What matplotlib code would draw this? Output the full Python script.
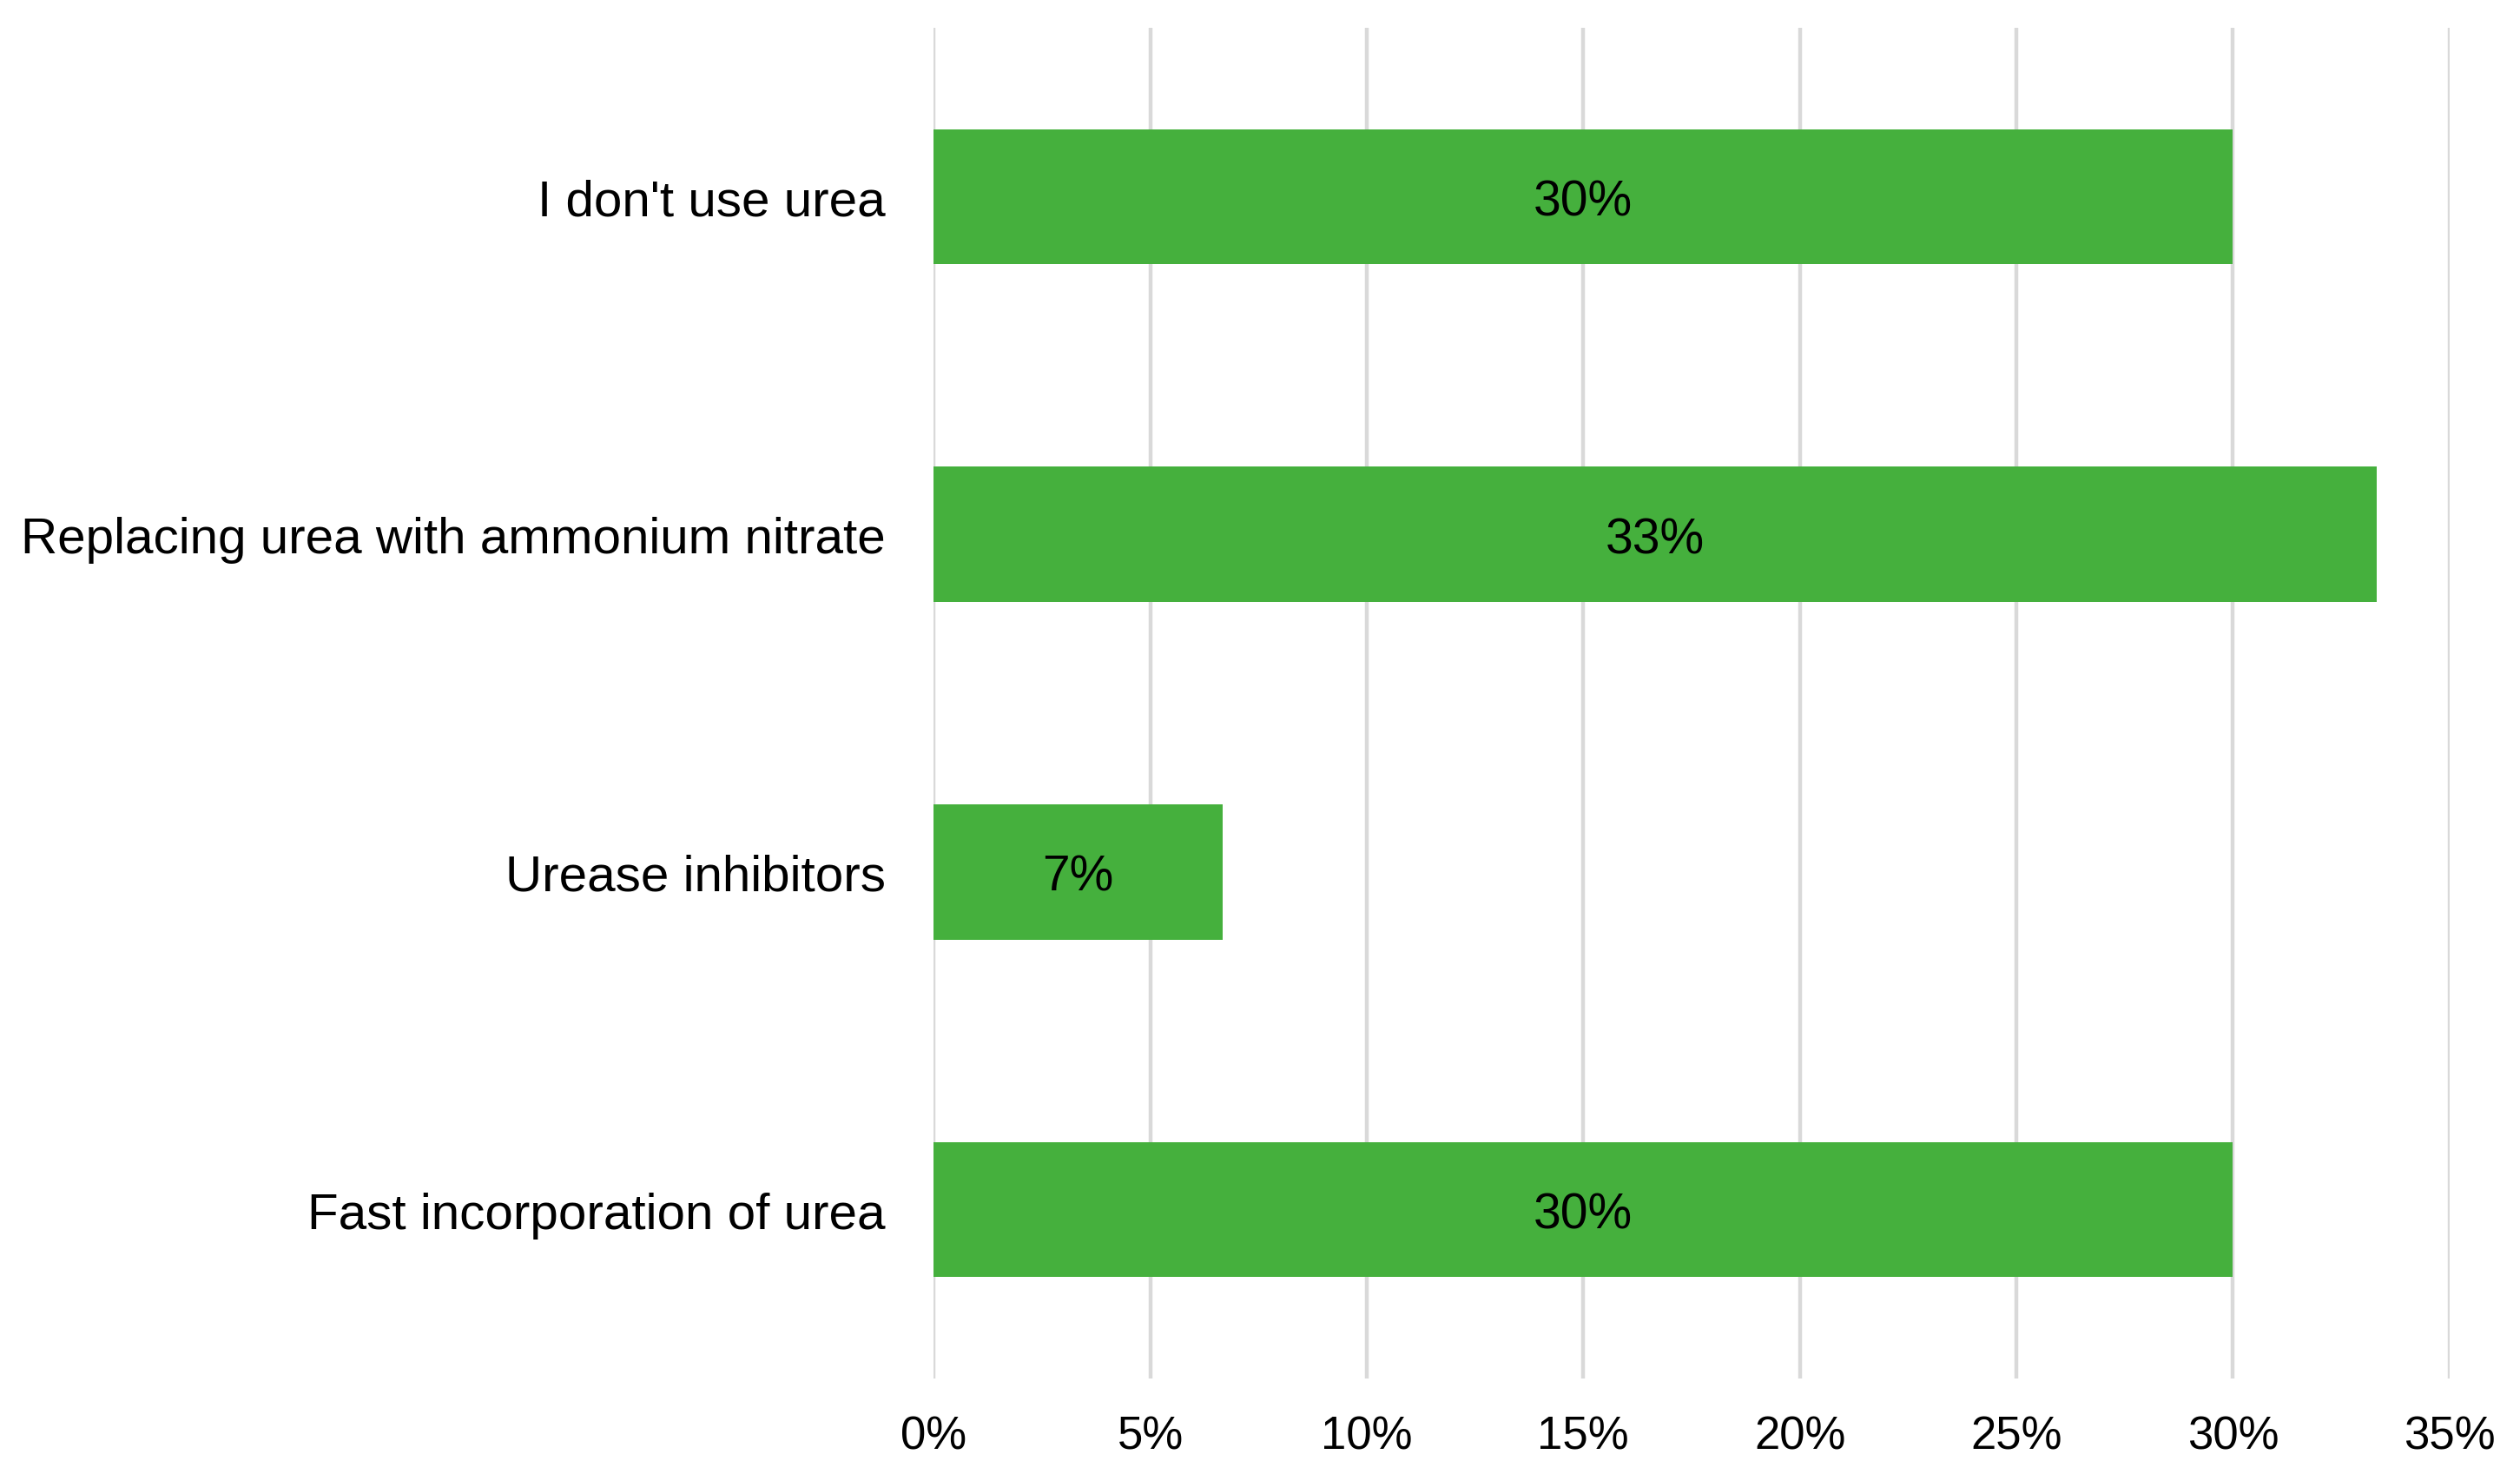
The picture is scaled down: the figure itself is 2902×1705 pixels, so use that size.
import matplotlib.pyplot as plt
from matplotlib.ticker import PercentFormatter

# Survey answers (top to bottom as shown)
categories = ["I don't use urea", "Replacing urea with ammonium nitrate",
              "Urease inhibitors", "Fast incorporation of urea"]
shares = [30.0, 33.33, 6.67, 30.0]
bar_labels = ["30%", "33%", "7%", "30%"]
x_ticks = [0, 5, 10, 15, 20, 25, 30, 35]

plt.rcParams['font.family'] = ['Liberation Sans', 'DejaVu Sans']

fig = plt.figure(figsize=(14.51, 8.53), dpi=200)
ax = fig.add_axes([0.3705, 0.0692, 0.972 - 0.3705, 0.9807 - 0.0692])

ypos = list(range(len(categories)))
bars = ax.barh(ypos, shares, height=0.4, color='#45B03D', zorder=2)

# value labels centred in each bar
for b, lab in zip(bars, bar_labels):
    ax.text(b.get_x() + b.get_width() / 2, b.get_y() + b.get_height() / 2, lab,
            ha='center', va='center_baseline', fontsize=20.5, color='black', zorder=3)

ax.set_yticks(ypos)
ax.set_yticklabels(categories, fontsize=21)
ax.set_ylim(len(categories) - 0.5, -0.5)

ax.set_xlim(0, 35)
ax.set_xticks(x_ticks)
ax.xaxis.set_major_formatter(PercentFormatter(decimals=0))

ax.grid(axis='x', color='#d9d9d9', linewidth=1.6, zorder=0)
ax.set_axisbelow(True)
for s in ax.spines.values():
    s.set_visible(False)

ax.tick_params(axis='both', length=0, colors='black')
ax.tick_params(axis='x', pad=15, labelsize=19)
ax.tick_params(axis='y', pad=20)

plt.savefig('out.png', dpi=200)
plt.close()
